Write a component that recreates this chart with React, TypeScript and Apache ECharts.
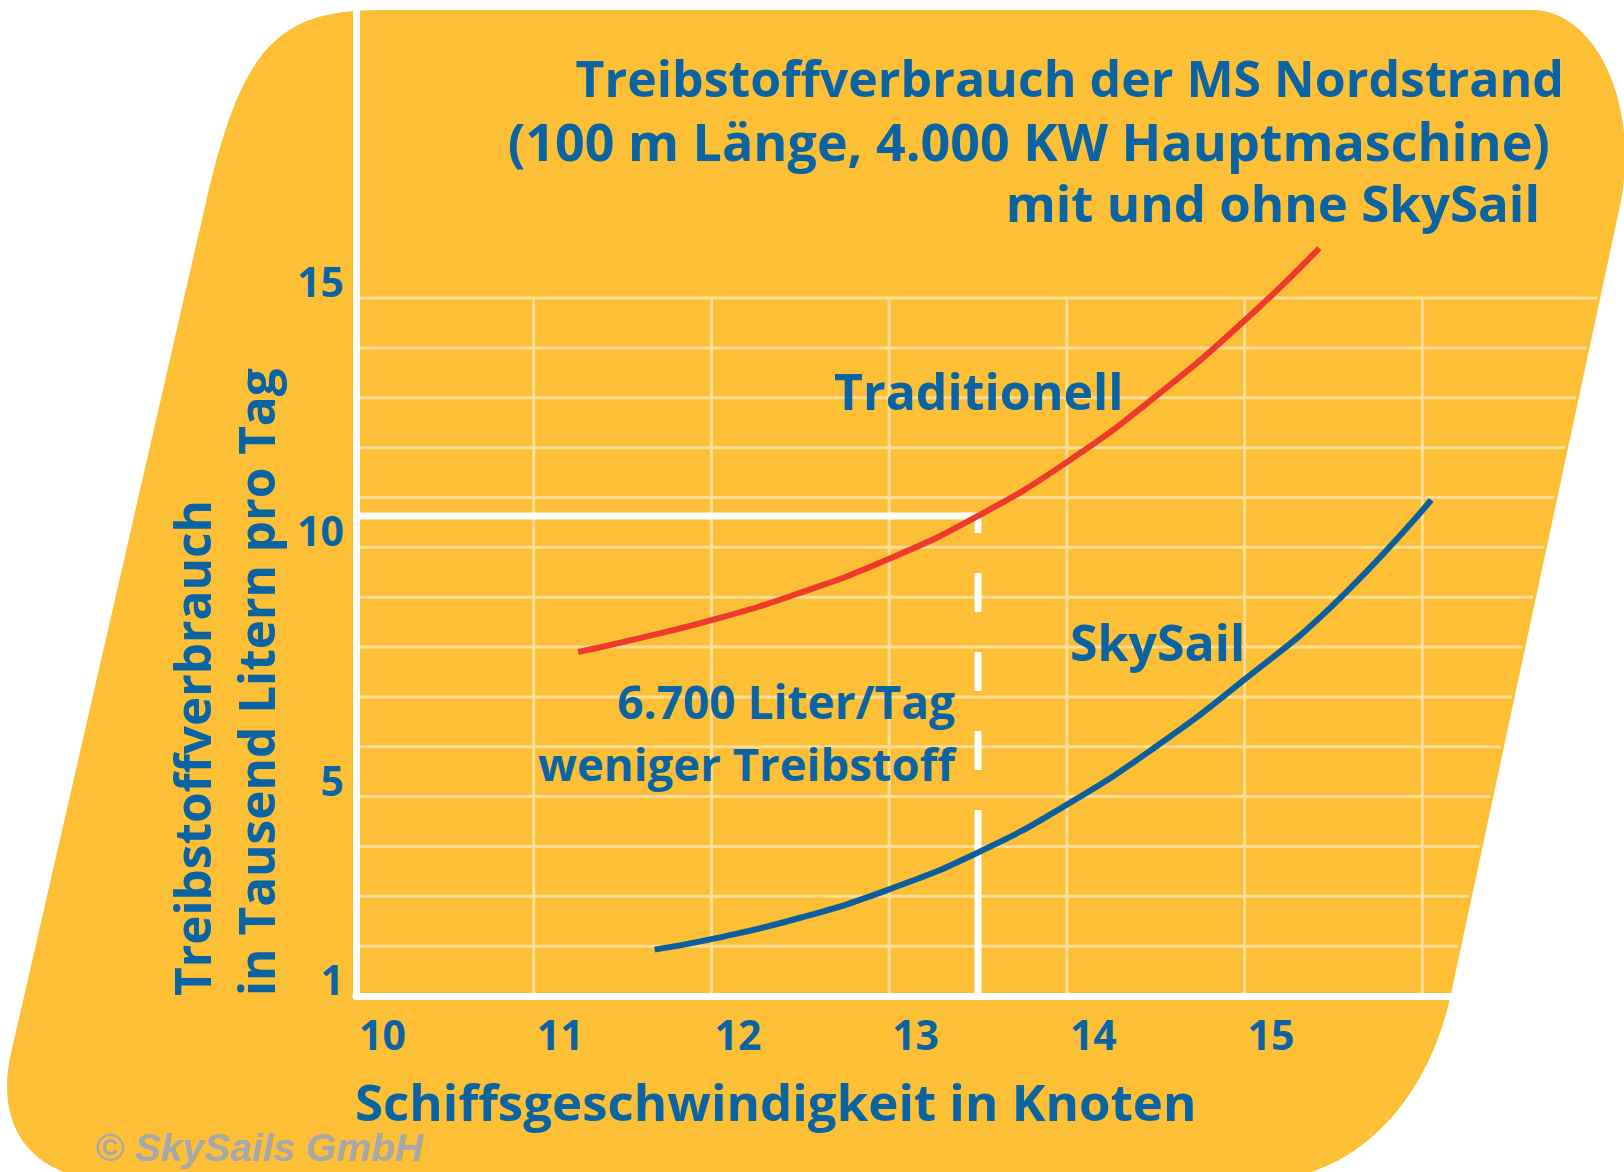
import React, { useEffect, useRef } from "react";
import * as echarts from "echarts";

// ---------- data ----------
const xTickLabels = [10, 11, 12, 13, 14, 15];
const yTickLabels = [1, 5, 10, 15];
const gridXValues = [11, 12, 13, 14, 15, 16];
const gridYValues = [2, 3, 4, 5, 6, 7, 8, 9, 10, 11, 12, 13, 14, 15];

const tradSpeed = [11.25, 11.5, 12, 12.5, 13, 13.5, 14, 14.5, 15, 15.42];
const tradFuel = [7.9, 8.1, 8.54, 9.09, 9.77, 10.63, 11.71, 13.03, 14.55, 16.0];

const skySpeed = [11.68, 12, 12.5, 13, 13.5, 14, 14.5, 15, 15.5, 16.05];
const skyFuel = [1.93, 2.14, 2.57, 3.14, 3.88, 4.84, 6.0, 7.35, 8.85, 10.95];

const markerSpeed = 13.5;
const markerSolidFrom = 4.73;

// ---------- layout / style ----------
const W = 1624;
const H = 1172;
const X_MIN = 10;
const X_MAX = 16.15;
const Y_MIN = 1;
const Y_MAX = 20.78;

const YELLOW = "#fdbf35";
const BLUE_TEXT = "#0a64a3";
const RED = "#ee3a2d";
const BLUE_LINE = "#0b5f9f";
const GRID = "#fedd97";
const FONT = "'Open Sans', 'Noto Sans', sans-serif";

// right slanted edge of the background shape
const rightEdgeX = (y: number) => 1662 - (251 / 1170) * (y - 10);

// rounded parallelogram (cubic corners)
const shapeD =
  "M 380 10 L 1532 10 C 1597 10 1641 108 1620 205.6 " +
  "L 1450.9 994.2 C 1427 1105.7 1351 1180 1261 1180 " +
  "L 112 1180 C 34 1180 -6.4 1129 11 1053.3 " +
  "L 205.3 205 C 241 49 276 10 380 10 Z";

let registered = false;
function ensureShape() {
  if (registered) return;
  echarts.graphic.registerShape("bgShape", echarts.graphic.extendPath(shapeD, {}));
  registered = true;
}

const txt = (text: string, x: number, y: number, o: any = {}) => {
  const size = o.size || 50;
  return {
    type: "text",
    x,
    y,
    z: 100,
    rotation: o.rotation || 0,
    silent: true,
    style: {
      text,
      fill: o.fill || BLUE_TEXT,
      fontSize: size,
      lineHeight: Math.round(size * 1.05),
      fontWeight: o.weight || "bold",
      fontStyle: o.fontStyle || "normal",
      fontFamily: o.family || FONT,
      align: o.align || "left",
      textAlign: o.align || "left",
      verticalAlign: "middle",
      textVerticalAlign: "middle",
    },
  };
};

function buildOption() {
  const tradData = tradSpeed.map((x, i) => [x, tradFuel[i]]);
  const skyData = skySpeed.map((x, i) => [x, skyFuel[i]]);
  const markerFuel = tradFuel[tradSpeed.indexOf(markerSpeed)];

  return {
    animation: false,
    backgroundColor: "#ffffff",
    grid: { left: 356, top: 10, right: W - 1449, bottom: 176, containLabel: false },
    xAxis: {
      type: "value",
      min: X_MIN,
      max: X_MAX,
      interval: 1,
      z: 3,
      axisLine: { show: true, lineStyle: { color: "#ffffff", width: 7 } },
      axisTick: { show: false },
      splitLine: { show: false },
      axisLabel: {
        customValues: xTickLabels,
        color: BLUE_TEXT,
        fontSize: 41,
        fontWeight: "bold",
        fontFamily: FONT,
        align: "left",
        verticalAlign: "top",
        lineHeight: 41,
        margin: 17,
        padding: [0, 0, 0, 3],
      },
    },
    yAxis: {
      type: "value",
      min: Y_MIN,
      max: Y_MAX,
      interval: 1,
      z: 3,
      axisLine: { show: true, lineStyle: { color: "#ffffff", width: 7 } },
      axisTick: { show: false },
      splitLine: { show: false },
      axisLabel: {
        customValues: yTickLabels,
        color: BLUE_TEXT,
        fontSize: 41,
        fontWeight: "bold",
        fontFamily: FONT,
        align: "right",
        verticalAlign: "bottom",
        lineHeight: 34,
        margin: 12,
      },
    },
    graphic: {
      elements: [
        { type: "bgShape", x: 0, y: 0, z: -10, silent: true, style: { fill: YELLOW } },
        txt("Treibstoffverbrauch der MS Nordstrand", 1564, 78, { align: "right", size: 50 }),
        txt("(100 m Länge, 4.000 KW Hauptmaschine)", 1550, 140, { align: "right", size: 52 }),
        txt("mit und ohne SkySail", 1540, 202, { align: "right", size: 51 }),
        txt("Traditionell", 834, 391, { size: 50 }),
        txt("SkySail", 1070, 642, { size: 50 }),
        txt("6.700 Liter/Tag", 955, 701, { align: "right", size: 46 }),
        txt("weniger Treibstoff", 955, 763, { align: "right", size: 45.5 }),
        txt("Treibstoffverbrauch", 192, 996, { rotation: Math.PI / 2, size: 49.5 }),
        txt("in Tausend Litern pro Tag", 256, 996, { rotation: Math.PI / 2, size: 49.5 }),
        txt("Schiffsgeschwindigkeit in Knoten", 355, 1101, { size: 51 }),
        txt("© SkySails GmbH", 95, 1147, {
          size: 39,
          family: "'Liberation Sans', Arial, sans-serif",
          fontStyle: "italic",
          fill: "#a6a8ab",
        }),
      ],
    },
    series: [
      {
        type: "custom",
        name: "hGrid",
        coordinateSystem: "cartesian2d",
        clip: false,
        silent: true,
        z: 1,
        data: gridYValues.map((v) => [X_MIN, v]),
        renderItem: (params: any, api: any) => {
          const p = api.coord([X_MIN, api.value(1)]);
          return {
            type: "line",
            shape: { x1: p[0], y1: p[1], x2: rightEdgeX(p[1]) - 3, y2: p[1] },
            style: { stroke: GRID, lineWidth: 3 },
          };
        },
      },
      {
        type: "custom",
        name: "vGrid",
        coordinateSystem: "cartesian2d",
        clip: false,
        silent: true,
        z: 1,
        data: gridXValues.map((x) => [x, Y_MIN]),
        renderItem: (params: any, api: any) => {
          const x = api.value(0);
          const p1 = api.coord([x, Y_MIN]);
          const p2 = api.coord([x, gridYValues[gridYValues.length - 1]]);
          return {
            type: "line",
            shape: { x1: p1[0], y1: p1[1], x2: p2[0], y2: p2[1] },
            style: { stroke: GRID, lineWidth: 3 },
          };
        },
      },
      {
        type: "line",
        name: "markerH",
        silent: true,
        symbol: "none",
        z: 4,
        data: [
          [X_MIN, markerFuel],
          [markerSpeed, markerFuel],
        ],
        lineStyle: { color: "#ffffff", width: 7 },
      },
      {
        type: "line",
        name: "markerVDashed",
        silent: true,
        symbol: "none",
        z: 4,
        data: [
          [markerSpeed, markerFuel],
          [markerSpeed, markerSolidFrom],
        ],
        lineStyle: { color: "#ffffff", width: 7, type: [39, 40], dashOffset: 22 },
      },
      {
        type: "line",
        name: "markerVSolid",
        silent: true,
        symbol: "none",
        z: 4,
        data: [
          [markerSpeed, markerSolidFrom],
          [markerSpeed, Y_MIN],
        ],
        lineStyle: { color: "#ffffff", width: 7 },
      },
      {
        type: "line",
        name: "Traditionell",
        symbol: "none",
        smooth: 0.5,
        z: 5,
        data: tradData,
        lineStyle: { color: RED, width: 6 },
      },
      {
        type: "line",
        name: "SkySail",
        symbol: "none",
        smooth: 0.5,
        z: 5,
        data: skyData,
        lineStyle: { color: BLUE_LINE, width: 6 },
      },
    ],
  };
}

export default function App() {
  const ref = useRef<HTMLDivElement>(null);
  useEffect(() => {
    ensureShape();
    const chart = echarts.init(ref.current as HTMLDivElement, null, {
      renderer: "svg",
      width: W,
      height: H,
    });
    chart.setOption(buildOption() as any);
    return () => chart.dispose();
  }, []);
  return (
    <div
      ref={ref}
      style={{ position: "fixed", left: 0, top: 0, width: W, height: H, background: "#fff" }}
    />
  );
}
